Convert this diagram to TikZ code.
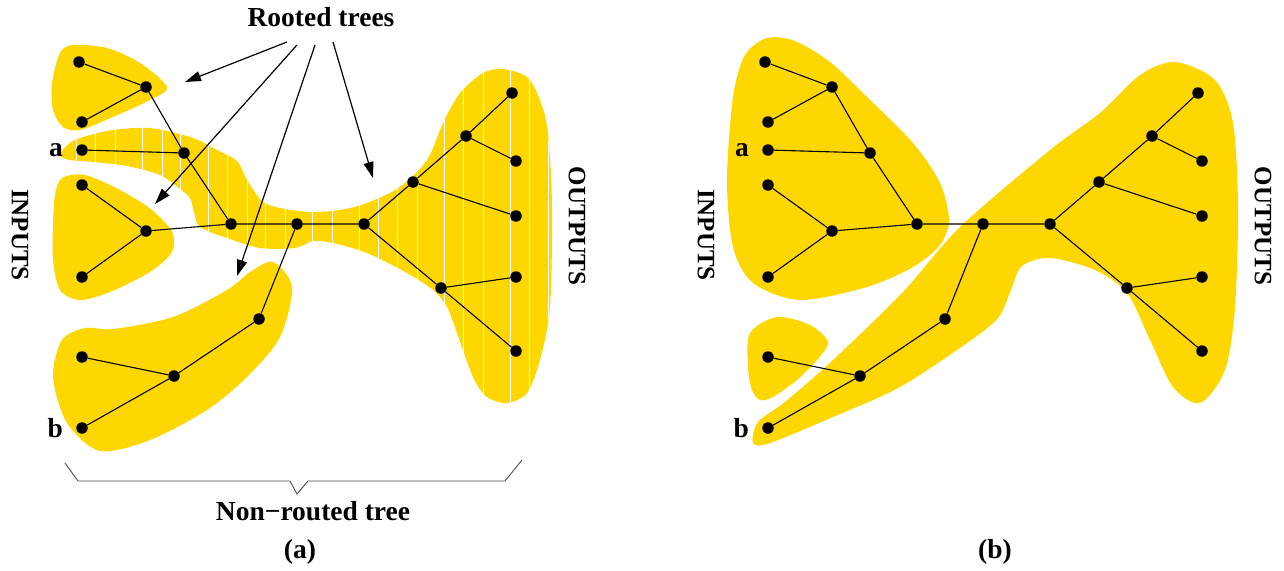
\documentclass[tikz,border=0pt]{standalone}
\usepackage{fontspec}
\setmainfont{Liberation Serif}
\usetikzlibrary{arrows.meta, positioning}
\definecolor{treegold}{RGB}{255,215,0}
\tikzset{
    treefig/.style={x=1pt, y=-1pt, font=\fontsize{27.5}{33}\selectfont\bfseries},
    blob/.style={fill=treegold},
    hatch/.style={white, line width=1pt},
    dot/.style={circle, fill, inner sep=0pt, minimum size=11.5pt},
    edge/.style={line width=1.1pt},
    pointer/.style={line width=1.2pt, -{Triangle[length=16pt, width=10pt]}},
    brace/.style={line width=0.9pt, black!70},
    sidelabel/.style={rotate=-90, font=\fontsize{25}{30}\selectfont\bfseries},
    pinlabel/.style={inner sep=1pt},
}

\begin{document}
\begin{tikzpicture}[treefig]
    \useasboundingbox (0,0) rectangle (1284,570);

    % (a) rooted trees
    \fill[blob] plot[smooth cycle] coordinates {(52,83) (60,53) (73,45) (107,48) (140,63) (167,87) (150,100) (113,117) (80,130) (63,127) (53,110)};
    \fill[blob] plot[smooth cycle] coordinates {(55,195) (62,178) (85,175) (120,190) (152,210) (172,232) (172,252) (150,272) (110,292) (80,300) (60,290) (53,260) (53,225)};
    \fill[blob] plot[smooth cycle] coordinates {(273,262) (292,287) (280,337) (247,377) (207,410) (150,440) (100,451) (67,423) (53,377) (62,340) (85,328) (113,329) (173,317) (227,290) (250,272)};

    % (a) non-routed tree, hatched
    \fill[blob] plot[smooth cycle] coordinates {(60,155) (73,141) (107,131) (150,128) (193,138) (217,150) (237,161) (247,180) (262,201) (280,208) (310,212) (340,210) (367,203) (400,187) (427,160) (443,123) (460,93) (483,73) (503,69) (527,77) (540,100) (548,133) (552,207) (550,307) (540,360) (527,393) (507,403) (487,397) (473,377) (457,333) (447,307) (433,290) (407,273) (367,253) (333,243) (313,241) (295,248) (260,248) (227,238) (200,227) (194,212) (190,198) (180,189) (160,175) (127,166) (93,162) (70,160)};
    \begin{scope}
        \clip plot[smooth cycle] coordinates {(60,155) (73,141) (107,131) (150,128) (193,138) (217,150) (237,161) (247,180) (262,201) (280,208) (310,212) (340,210) (367,203) (400,187) (427,160) (443,123) (460,93) (483,73) (503,69) (527,77) (540,100) (548,133) (552,207) (550,307) (540,360) (527,393) (507,403) (487,397) (473,377) (457,333) (447,307) (433,290) (407,273) (367,253) (333,243) (313,241) (295,248) (260,248) (227,238) (200,227) (194,212) (190,198) (180,189) (160,175) (127,166) (93,162) (70,160)};
        \foreach \x in {76,95,115,142,162,180,208,227,247,265,285,312,332,359,378,397,417,444,463,483,510,529,548}
            \draw[hatch] (\x,40) -- (\x,420);
    \end{scope}

    % (b) regions
    \fill[blob] plot[smooth cycle] coordinates {(733,97) (745,55) (767,38) (795,41) (830,62) (867,97) (913,143) (940,183) (949,220) (940,245) (913,267) (867,287) (800,300) (753,283) (733,247) (727,180)};
    \fill[blob] plot[smooth cycle] coordinates {(750,333) (777,317) (810,325) (828,342) (817,360) (797,380) (773,397) (760,400) (752,390) (748,367)};
    \fill[blob] plot[smooth cycle] coordinates {(753,443) (758,422) (785,402) (833,360) (903,292) (960,227) (1050,150) (1100,113) (1140,75) (1175,62) (1215,80) (1233,123) (1238,207) (1235,307) (1225,370) (1200,403) (1173,387) (1150,340) (1127,293) (1095,270) (1050,258) (1022,266) (1011,290) (998,318) (967,343) (900,387) (833,417) (770,443)};

    % trees, same in both panels
    \foreach \p/\dx in {a/0, b/686} {
        \node[dot] (\p-i1) at (79+\dx,62)  {};
        \node[dot] (\p-i2) at (82+\dx,122) {};
        \node[dot] (\p-i3) at (82+\dx,150) {};
        \node[dot] (\p-i4) at (82+\dx,185) {};
        \node[dot] (\p-i5) at (82+\dx,277) {};
        \node[dot] (\p-i6) at (82+\dx,357) {};
        \node[dot] (\p-i7) at (82+\dx,428) {};
        \node[dot] (\p-n1) at (146+\dx,87)  {};
        \node[dot] (\p-n2) at (184+\dx,153) {};
        \node[dot] (\p-n3) at (146+\dx,231) {};
        \node[dot] (\p-n4) at (231+\dx,224) {};
        \node[dot] (\p-n5) at (297+\dx,224) {};
        \node[dot] (\p-n6) at (364+\dx,224) {};
        \node[dot] (\p-n7) at (413+\dx,182) {};
        \node[dot] (\p-n8) at (466+\dx,136) {};
        \node[dot] (\p-n9) at (441+\dx,288) {};
        \node[dot] (\p-n10) at (259+\dx,319) {};
        \node[dot] (\p-n11) at (174+\dx,376) {};
        \node[dot] (\p-o1) at (512+\dx,93)  {};
        \node[dot] (\p-o2) at (516+\dx,161) {};
        \node[dot] (\p-o3) at (516+\dx,216) {};
        \node[dot] (\p-o4) at (516+\dx,277) {};
        \node[dot] (\p-o5) at (516+\dx,351) {};

        \draw[edge] (\p-i1) -- (\p-n1) -- (\p-i2);
        \draw[edge] (\p-n1) -- (\p-n2) -- (\p-n4);
        \draw[edge] (\p-i3) -- (\p-n2);
        \draw[edge] (\p-i4) -- (\p-n3) -- (\p-i5);
        \draw[edge] (\p-n3) -- (\p-n4) -- (\p-n5) -- (\p-n6) -- (\p-n7) -- (\p-n8) -- (\p-o1);
        \draw[edge] (\p-n8) -- (\p-o2);
        \draw[edge] (\p-n7) -- (\p-o3);
        \draw[edge] (\p-n6) -- (\p-n9) -- (\p-o4);
        \draw[edge] (\p-n9) -- (\p-o5);
        \draw[edge] (\p-n5) -- (\p-n10) -- (\p-n11) -- (\p-i7);
        \draw[edge] (\p-i6) -- (\p-n11);

        \node[pinlabel, left=12pt of \p-i3] (\p-la) {a};
        \node[pinlabel, left=12pt of \p-i7] (\p-lb) {b};
        \node[sidelabel] (\p-inputs)  at (20+\dx,235) {INPUTS};
        \node[sidelabel] (\p-outputs) at (577+\dx,226) {OUTPUTS};
    }

    % labels
    \node[anchor=base] (rooted) at (321,27) {Rooted trees};
    \coordinate (rs1) at (287,42);  \coordinate (rt1) at (185,82);
    \coordinate (rs2) at (297,45);  \coordinate (rt2) at (155,204);
    \coordinate (rs3) at (315,45);  \coordinate (rt3) at (237,276);
    \coordinate (rs4) at (333,42);  \coordinate (rt4) at (373,178);
    \foreach \k in {1,...,4}
        \draw[pointer] (rs\k) -- (rt\k);

    \draw[brace] (65,463) -- (78,481) -- (290,481) -- (297,494) -- (308,481) -- (505,481) -- (522,460);
    \node[anchor=base] (nonrouted) at (313,520) {Non−routed tree};
    \node[anchor=base] (capa) at (300,558) {(a)};
    \node[anchor=base] (capb) at (995,558) {(b)};
\end{tikzpicture}
\end{document}
